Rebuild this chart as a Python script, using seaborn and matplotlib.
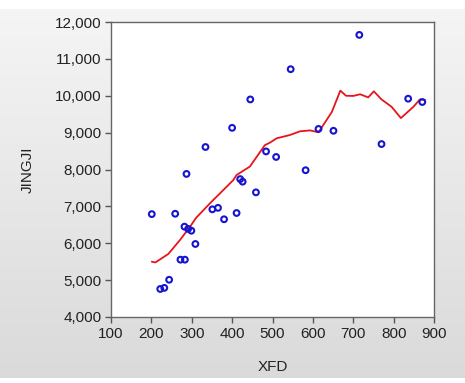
import numpy as np
import pandas as pd
import matplotlib
matplotlib.use("Agg")
import matplotlib.pyplot as plt
from matplotlib.ticker import FuncFormatter
import seaborn as sns

# scatter data
xfd = [715, 545, 445, 836, 871, 400, 614, 651, 334, 770, 484, 509, 287, 582,
       420, 426, 459, 201, 259, 351, 365, 380, 411, 282, 291, 299, 309, 272,
       283, 244, 222, 232]
jingji = [11650, 10720, 9900, 9920, 9830, 9130, 9100, 9050, 8610, 8690, 8490,
          8340, 7880, 7980, 7740, 7670, 7380, 6790, 6800, 6920, 6960, 6650,
          6820, 6450, 6390, 6340, 5980, 5555, 5555, 5010, 4760, 4790]

# smoothed fit line
fit_x = [201, 210, 242, 271, 296, 310, 337, 353, 366, 403, 411, 444, 481, 494,
         510, 543, 568, 593, 614, 647, 668, 682, 700, 717, 737, 751, 770, 795,
         818, 849, 865, 878]
fit_y = [5500, 5480, 5710, 6090, 6450, 6680, 6990, 7170, 7310, 7715, 7850,
         8080, 8660, 8730, 8845, 8935, 9035, 9060, 9010, 9560, 10140, 10000,
         9995, 10040, 9955, 10120, 9900, 9700, 9395, 9700, 9900, 9885]

pts = pd.DataFrame({"XFD": xfd, "JINGJI": jingji})
fit = pd.DataFrame({"XFD": fit_x, "JINGJI": fit_y})

sns.set_style("white")
plt.rcParams["font.family"] = ["Liberation Sans", "DejaVu Sans"]

fig = plt.figure(figsize=(4.65, 3.83), dpi=100)

# gray gradient panel behind the chart
bg = fig.add_axes([0, 5 / 383, 1, 369 / 383], zorder=-1)
grad = np.linspace(0.96, 0.855, 256).reshape(-1, 1)
bg.imshow(np.dstack([grad, grad, grad]), aspect="auto", extent=[0, 1, 0, 1])
bg.axis("off")

ax = fig.add_axes([111 / 465, 66 / 383, 323 / 465, 295 / 383])
sns.lineplot(data=fit, x="XFD", y="JINGJI", color="#e8141c", lw=1.3,
             sort=False, ax=ax)
sns.scatterplot(data=pts, x="XFD", y="JINGJI", marker="o", facecolor="none",
                edgecolor="#1515d0", linewidth=1.5, s=17, ax=ax, zorder=3)

ax.set_xlim(100, 900)
ax.set_ylim(4000, 12000)
ax.set_xticks(range(100, 901, 100))
ax.set_yticks(range(4000, 12001, 1000))
ax.yaxis.set_major_formatter(FuncFormatter(lambda v, p: f"{int(v):,}"))
ax.tick_params(axis="both", which="both", direction="out", length=4,
               width=1, color="#555555", labelsize=11, labelcolor="#222222",
               left=True, bottom=True, pad=3)
for s in ax.spines.values():
    s.set_color("#666666")
    s.set_linewidth(1)
ax.set_xlabel("XFD", fontsize=11, color="#222222", labelpad=14)
ax.set_ylabel("JINGJI", fontsize=11, color="#222222", labelpad=14)

fig.savefig("out.png", dpi=100)
